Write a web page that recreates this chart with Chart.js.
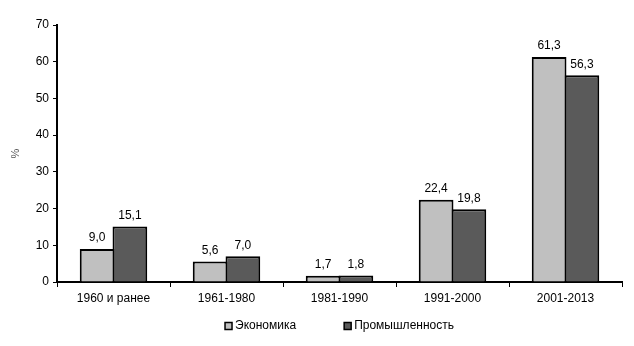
<!DOCTYPE html>
<html>
<head>
<meta charset="utf-8">
<script src="https://cdn.jsdelivr.net/npm/chart.js@4/dist/chart.umd.min.js"></script>
<style>
  html, body { margin: 0; padding: 0; background: #fff; }
  #wrap { width: 634px; height: 346px; }
</style>
</head>
<body>
<div id="wrap"><canvas id="periodChart" width="634" height="346"></canvas></div>
<script>
var periods = ['1960 и ранее', '1961-1980', '1981-1990', '1991-2000', '2001-2013'];
var economyValues = [9.0, 5.6, 1.7, 22.4, 61.3];
var industryValues = [15.1, 7.0, 1.8, 19.8, 56.3];
var yTicks = [0, 10, 20, 30, 40, 50, 60, 70];

var FONT = '"Liberation Sans", Arial, sans-serif';
Chart.defaults.font.family = FONT;
Chart.defaults.font.size = 12;
Chart.defaults.color = '#000';

// подписи значений над столбиками
var valueLabels = {
    id: 'valueLabels',
    afterDatasetsDraw: function (chart) {
        var ctx = chart.ctx;
        ctx.save();
        ctx.font = '12px ' + FONT;
        ctx.fillStyle = '#000';
        ctx.textAlign = 'center';
        ctx.textBaseline = 'bottom';
        chart.data.datasets.forEach(function (ds, i) {
            chart.getDatasetMeta(i).data.forEach(function (bar, j) {
                var txt = ds.data[j].toFixed(1).replace('.', ',');
                ctx.fillText(txt, bar.x, bar.y - 5);
            });
        });
        ctx.restore();
    }
};

// легенда внизу: квадратик вплотную к тексту, большой промежуток между пунктами
var bottomLegend = {
    id: 'bottomLegend',
    afterDraw: function (chart) {
        var ctx = chart.ctx;
        var ds = chart.data.datasets;
        var box = 7, gap = 3, spacing = 48;
        ctx.save();
        ctx.font = '12px ' + FONT;
        ctx.textBaseline = 'middle';
        var widths = ds.map(function (d) { return box + gap + ctx.measureText(d.label).width; });
        var total = widths.reduce(function (a, b) { return a + b; }, 0) + spacing * (ds.length - 1);
        var x = (chart.chartArea.left + chart.chartArea.right) / 2 - total / 2;
        var y = 326;
        ds.forEach(function (d, i) {
            ctx.fillStyle = d.backgroundColor;
            ctx.fillRect(x, y - box / 2, box, box);
            ctx.strokeStyle = '#000';
            ctx.lineWidth = 1.5;
            ctx.strokeRect(x, y - box / 2, box, box);
            ctx.fillStyle = '#000';
            ctx.textAlign = 'left';
            ctx.fillText(d.label, x + box + gap, y);
            x += widths[i] + spacing;
        });
        ctx.restore();
    }
};

var ctx = document.getElementById('periodChart').getContext('2d');
var periodChart = new Chart(ctx, {
    type: 'bar',
    data: {
        labels: periods,
        datasets: [{
            label: 'Экономика',
            data: economyValues,
            backgroundColor: '#c0c0c0',
            borderColor: '#000',
            borderWidth: 2,
            borderSkipped: 'bottom'
        }, {
            label: 'Промышленность',
            data: industryValues,
            backgroundColor: '#5a5a5a',
            borderColor: '#000',
            borderWidth: 2,
            borderSkipped: 'bottom'
        }]
    },
    options: {
        responsive: false,
        animation: false,
        layout: { padding: { top: 25, right: 12, left: 0, bottom: 40 } },
        datasets: {
            bar: { categoryPercentage: 0.58, barPercentage: 1.06 }
        },
        plugins: {
            tooltip: { enabled: false },
            legend: { display: false }
        },
        scales: {
            x: {
                grid: {
                    offset: true,
                    drawOnChartArea: false,
                    drawTicks: true,
                    tickLength: 5,
                    color: '#000',
                    lineWidth: 1
                },
                border: { color: '#000', width: 2 },
                ticks: { padding: 4, maxRotation: 0 },
                afterFit: function (scale) { scale.height = 24; }
            },
            y: {
                min: 0,
                max: 70,
                afterBuildTicks: function (scale) {
                    scale.ticks = yTicks.map(function (v) { return { value: v }; });
                },
                grid: {
                    drawOnChartArea: false,
                    drawTicks: true,
                    tickLength: 4,
                    color: '#000'
                },
                border: { color: '#000', width: 2 },
                ticks: { padding: 4 },
                title: {
                    display: true,
                    text: '%',
                    color: '#555',
                    font: { size: 11 },
                    padding: { top: 9, bottom: 0 }
                },
                afterFit: function (scale) { scale.width = 57; }
            }
        }
    },
    plugins: [valueLabels, bottomLegend]
});
</script>
</body>
</html>
